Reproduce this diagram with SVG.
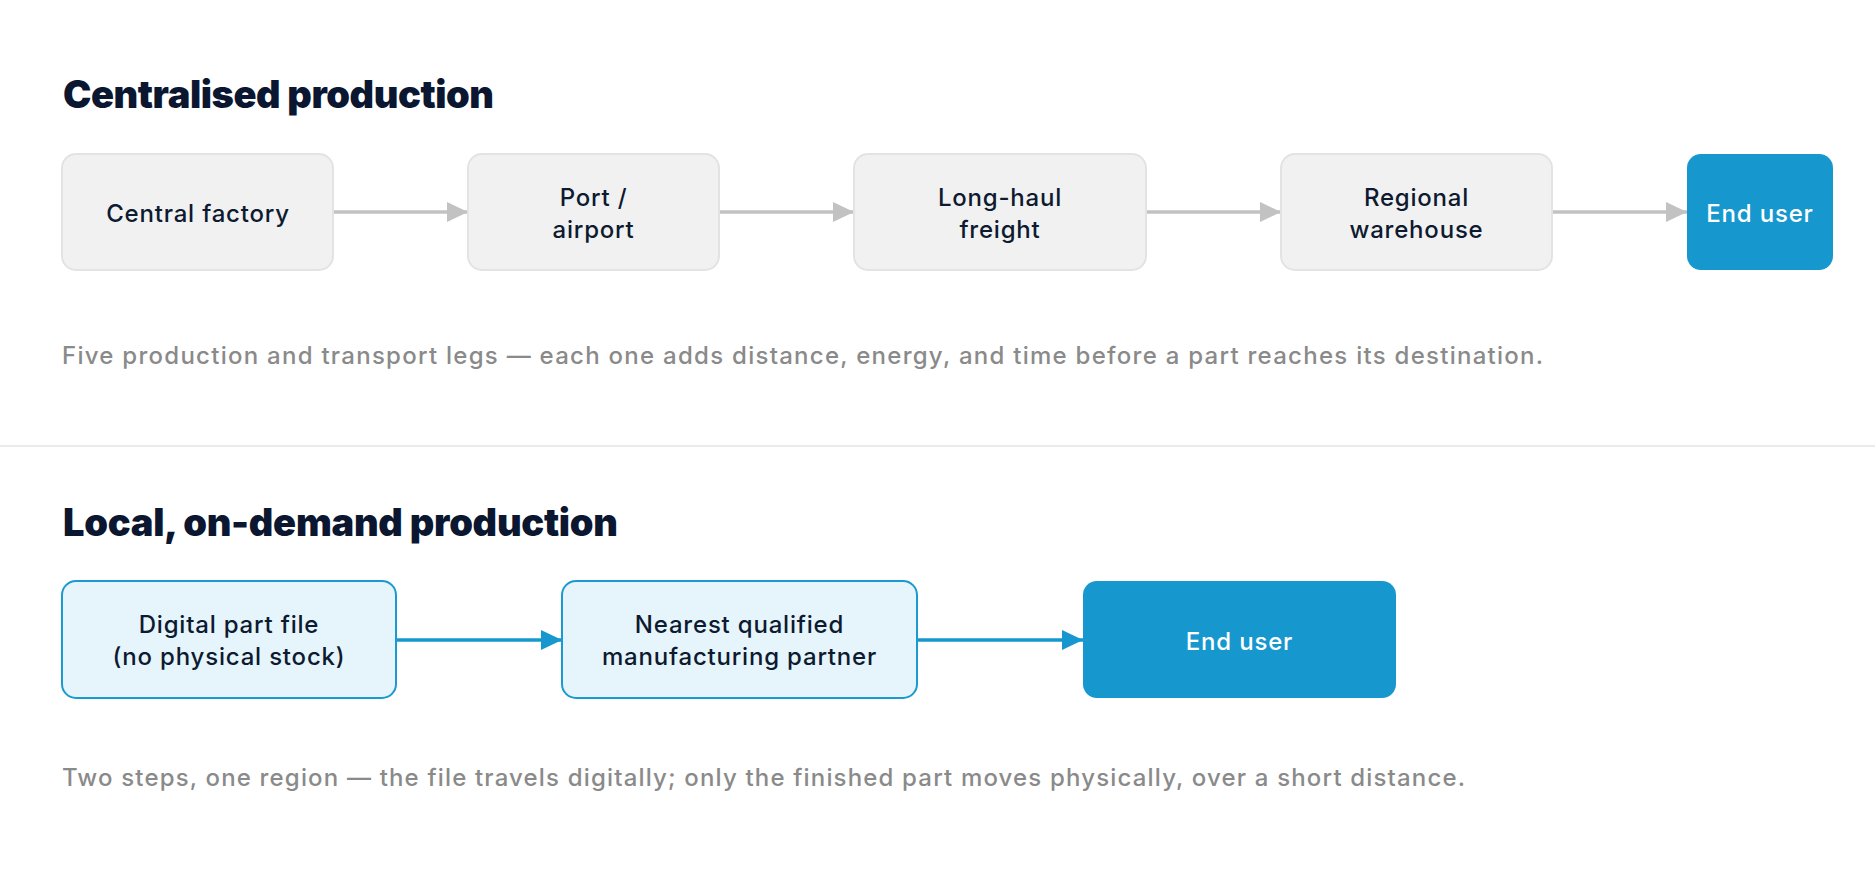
<svg xmlns="http://www.w3.org/2000/svg" width="1875" height="875" viewBox="0 0 1875 875">
  <defs>
    <style>
      .title { font-family: Inter, "Liberation Sans", sans-serif; font-weight: 900; font-size: 38px; fill: #0b1630; }
      .caption { font-family: Inter, "Liberation Sans", sans-serif; font-weight: 500; font-size: 24px; fill: #8a8a8a; }
      .lbl { font-family: Inter, "Liberation Sans", sans-serif; font-weight: 500; font-size: 24px; fill: #0d1a30; text-anchor: middle; letter-spacing: 0.8px; }
      .lbl-w { font-family: Inter, "Liberation Sans", sans-serif; font-weight: 500; font-size: 24px; fill: #ffffff; text-anchor: middle; letter-spacing: 0.8px; }
      .gbox { fill: #f1f1f1; stroke: #e3e3e3; stroke-width: 2; }
      .bbox { fill: #e5f5fb; stroke: #1a9ad0; stroke-width: 2; }
      .ubox { fill: #1698cf; }
      .gline { stroke: #c2c2c2; stroke-width: 3.5; fill: none; }
      .bline { stroke: #1698cf; stroke-width: 3.5; fill: none; }
    </style>
    <marker id="ag" viewBox="0 0 21 20" refX="21" refY="10" markerWidth="21" markerHeight="20" markerUnits="userSpaceOnUse" orient="auto">
      <path d="M0,0 L21,10 L0,20 Z" fill="#c2c2c2"/>
    </marker>
    <marker id="ab" viewBox="0 0 21 20" refX="21" refY="10" markerWidth="21" markerHeight="20" markerUnits="userSpaceOnUse" orient="auto">
      <path d="M0,0 L21,10 L0,20 Z" fill="#1698cf"/>
    </marker>
  </defs>
  <rect width="1875" height="875" fill="#ffffff"/>

  <text class="title" x="63" y="108" textLength="431">Centralised production</text>

  <g id="connectors-top">
    <line class="gline" x1="334" y1="212" x2="468" y2="212" marker-end="url(#ag)"/>
    <line class="gline" x1="719" y1="212" x2="854" y2="212" marker-end="url(#ag)"/>
    <line class="gline" x1="1146" y1="212" x2="1281" y2="212" marker-end="url(#ag)"/>
    <line class="gline" x1="1552" y1="212" x2="1687" y2="212" marker-end="url(#ag)"/>
  </g>

  <g id="central-factory">
    <rect class="gbox" x="62" y="154" width="271" height="116" rx="14"/>
    <text class="lbl" x="198" y="222">Central factory</text>
  </g>
  <g id="port-airport">
    <rect class="gbox" x="468" y="154" width="251" height="116" rx="14"/>
    <text class="lbl" x="593.5" y="206">Port /</text>
    <text class="lbl" x="593.5" y="238">airport</text>
  </g>
  <g id="long-haul-freight">
    <rect class="gbox" x="854" y="154" width="292" height="116" rx="14"/>
    <text class="lbl" x="1000" y="206">Long-haul</text>
    <text class="lbl" x="1000" y="238">freight</text>
  </g>
  <g id="regional-warehouse">
    <rect class="gbox" x="1281" y="154" width="271" height="116" rx="14"/>
    <text class="lbl" x="1416.5" y="206">Regional</text>
    <text class="lbl" x="1416.5" y="238">warehouse</text>
  </g>
  <g id="end-user-top">
    <rect class="ubox" x="1687" y="154" width="146" height="116" rx="14"/>
    <text class="lbl-w" x="1760" y="222">End user</text>
  </g>

  <text class="caption" x="62" y="364" textLength="1481">Five production and transport legs — each one adds distance, energy, and time before a part reaches its destination.</text>

  <line x1="0" y1="446" x2="1875" y2="446" stroke="#ebebeb" stroke-width="2"/>

  <text class="title" x="63" y="536" textLength="555">Local, on-demand production</text>

  <g id="connectors-bottom">
    <line class="bline" x1="396" y1="640" x2="562" y2="640" marker-end="url(#ab)"/>
    <line class="bline" x1="917" y1="640" x2="1083" y2="640" marker-end="url(#ab)"/>
  </g>

  <g id="digital-part-file">
    <rect class="bbox" x="62" y="581" width="334" height="117" rx="14"/>
    <text class="lbl" x="229" y="633">Digital part file</text>
    <text class="lbl" x="229" y="665">(no physical stock)</text>
  </g>
  <g id="manufacturing-partner">
    <rect class="bbox" x="562" y="581" width="355" height="117" rx="14"/>
    <text class="lbl" x="739.5" y="633">Nearest qualified</text>
    <text class="lbl" x="739.5" y="665">manufacturing partner</text>
  </g>
  <g id="end-user-bottom">
    <rect class="ubox" x="1083" y="581" width="313" height="117" rx="14"/>
    <text class="lbl-w" x="1239.5" y="650">End user</text>
  </g>

  <text class="caption" x="62" y="786" textLength="1403">Two steps, one region — the file travels digitally; only the finished part moves physically, over a short distance.</text>
</svg>
